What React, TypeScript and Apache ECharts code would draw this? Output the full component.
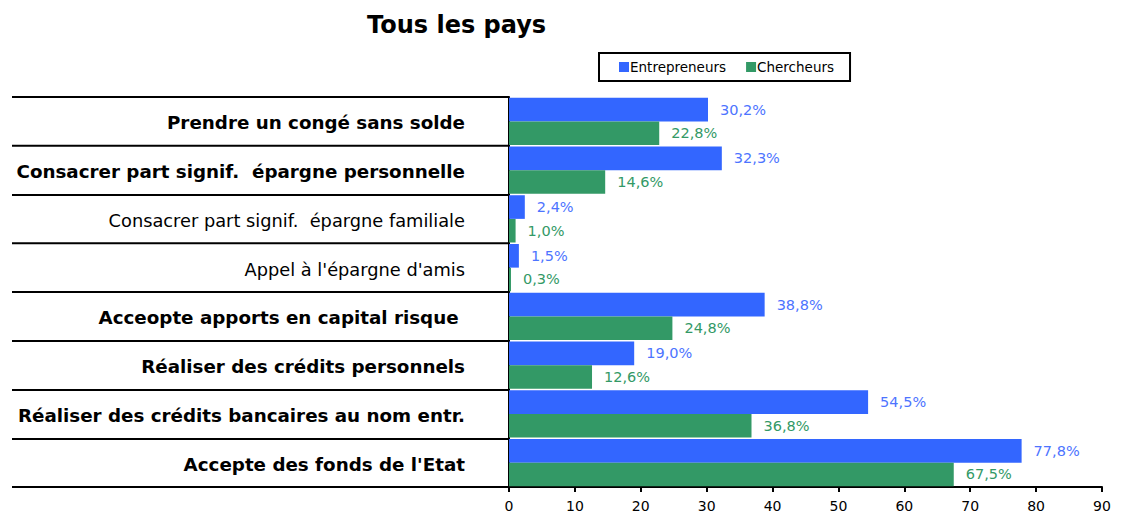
import React, { useEffect, useRef } from "react";
import * as echarts from "echarts";

const categories = [
  "Prendre un congé sans solde",
  "Consacrer part signif.  épargne personnelle",
  "Consacrer part signif.  épargne familiale",
  "Appel à l'épargne d'amis",
  "Acceopte apports en capital risque ",
  "Réaliser des crédits personnels",
  "Réaliser des crédits bancaires au nom entr.",
  "Accepte des fonds de l'Etat",
];
const boldCategories = [true, true, false, false, true, true, true, true];
const entrepreneurs = [30.2, 32.3, 2.4, 1.5, 38.8, 19.0, 54.5, 77.8];
const chercheurs = [22.8, 14.6, 1.0, 0.3, 24.8, 12.6, 36.8, 67.5];
const xTicks = [0, 10, 20, 30, 40, 50, 60, 70, 80, 90];

const FONT = "DejaVu Sans";

export default function App() {
  const ref = useRef<HTMLDivElement>(null);
  useEffect(() => {
    const chart = echarts.init(ref.current!, null, { renderer: "svg" });
    const fmt = (p: any) => p.value.toFixed(1).replace(".", ",") + "%";
    chart.setOption({
      animation: false,
      title: {
        text: "Tous les pays",
        left: 362,
        top: 8,
        textStyle: { fontFamily: FONT, fontWeight: "bold", fontSize: 24, color: "#000" },
      },
      legend: {
        data: ["Entrepreneurs", "Chercheurs"],
        left: 599,
        top: 53,
        itemWidth: 10,
        itemHeight: 10,
        itemGap: 20,
        padding: [7, 16, 7, 20],
        borderColor: "#000",
        borderWidth: 2,
        icon: "rect",
        textStyle: { fontFamily: FONT, fontSize: 13.5, color: "#000", padding: [0, 0, 0, -4] },
      },
      grid: { left: 509, right: 22, top: 97, bottom: 29 },
      xAxis: {
        type: "value",
        min: 0,
        max: 90,
        interval: 10,
        splitLine: { show: false },
        axisLine: { show: true, lineStyle: { color: "#000", width: 2 } },
        axisTick: { show: true, length: 5, lineStyle: { color: "#000", width: 2 } },
        axisLabel: { fontFamily: FONT, fontSize: 14, color: "#000", margin: 12,
          formatter: (v: number) => (xTicks.includes(v) ? String(v) : "") },
      },
      yAxis: {
        type: "category",
        inverse: true,
        data: categories,
        axisLine: { show: true, lineStyle: { color: "#000", width: 2 } },
        axisTick: { show: true, length: 497, lineStyle: { color: "#000", width: 2 } },
        axisLabel: {
          margin: 44,
          padding: [3, 0, 0, 0],
          formatter: (v: string, i: number) => (boldCategories[i] ? `{b|${v}}` : `{n|${v}}`),
          rich: {
            b: { fontFamily: FONT, fontWeight: "bold", fontSize: 18.3, color: "#000" },
            n: { fontFamily: FONT, fontSize: 17.8, color: "#000" },
          },
        },
      },
      series: [
        {
          name: "Entrepreneurs",
          type: "bar",
          data: entrepreneurs,
          barGap: "0%",
          barCategoryGap: "3%",
          itemStyle: { color: "#3366FF" },
          label: { show: true, position: "right", distance: 12, formatter: fmt,
            fontFamily: FONT, fontSize: 14.5, color: "#4D74FF" },
        },
        {
          name: "Chercheurs",
          type: "bar",
          data: chercheurs,
          barGap: "0%",
          barCategoryGap: "3%",
          itemStyle: { color: "#339966" },
          label: { show: true, position: "right", distance: 12, formatter: fmt,
            fontFamily: FONT, fontSize: 14.5, color: "#339966" },
        },
      ],
    });
    return () => chart.dispose();
  }, []);
  return <div ref={ref} style={{ width: 1124, height: 516, position: "absolute", left: 0, top: 0 }} />;
}
